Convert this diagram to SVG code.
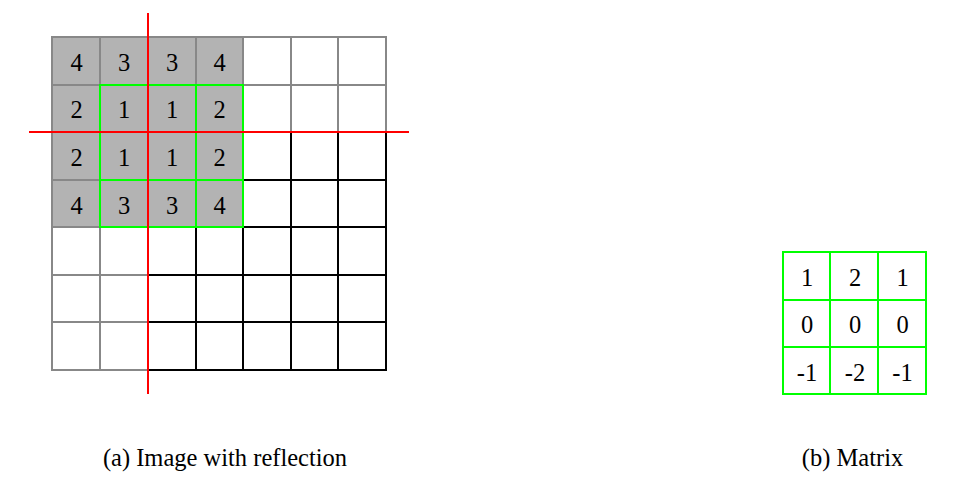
<svg xmlns="http://www.w3.org/2000/svg" width="954" height="480" viewBox="0 0 954 480">
<style>
text{font-size:24.5px;fill:#000;text-anchor:middle}
.g{stroke:#888;stroke-width:2;fill:none}
.k{stroke:#000;stroke-width:2;fill:none}
.gr{stroke:#00ff00;stroke-width:2;fill:none}
.r{stroke:#ff0000;stroke-width:2;fill:none}
</style>
<rect width="954" height="480" fill="#fff"/>
<g font-family="'Liberation Serif', 'Times New Roman', serif">
<g id="image-grid">
<rect x="52" y="37" width="191" height="190" fill="#b3b3b3"/>
<path class="g" d="M52 37V370M100 37V370M148 37V370M196 37V370M243 37V370M291 37V370M338 37V370M386 37V370M52 37H386M52 85H386M52 132H386M52 180H386M52 227H386M52 275H386M52 322H386M52 370H386" stroke-linecap="square"/>
<path class="k" d="M148 132V370M196 132V370M243 132V370M291 132V370M338 132V370M386 132V370M148 132H386M148 180H386M148 227H386M148 275H386M148 322H386M148 370H386" stroke-linecap="square"/>
<path class="gr" d="M100 85V227M148 85V227M196 85V227M243 85V227M100 85H243M100 132H243M100 180H243M100 227H243" stroke-linecap="square"/>
<g id="grid-values">
<text x="76.5" y="70.8">4</text><text x="124" y="70.8">3</text><text x="172" y="70.8">3</text><text x="219.5" y="70.8">4</text>
<text x="76.5" y="118.4">2</text><text x="124" y="118.4">1</text><text x="172" y="118.4">1</text><text x="219.5" y="118.4">2</text>
<text x="76.5" y="165.9">2</text><text x="124" y="165.9">1</text><text x="172" y="165.9">1</text><text x="219.5" y="165.9">2</text>
<text x="76.5" y="213.5">4</text><text x="124" y="213.5">3</text><text x="172" y="213.5">3</text><text x="219.5" y="213.5">4</text>
</g>
</g>
<g id="reflection-axes">
<path class="r" d="M148 13V394M29 132H409"/>
</g>
<g id="matrix">
<path class="gr" d="M783 252V394M830 252V394M878 252V394M926 252V394M783 252H926M783 300H926M783 347H926M783 394H926" stroke-linecap="square"/>
<text x="807" y="285.8">1</text><text x="855" y="285.8">2</text><text x="902.5" y="285.8">1</text>
<text x="807" y="333.3">0</text><text x="855" y="333.3">0</text><text x="902.5" y="333.3">0</text>
<text x="807" y="380.8">-1</text><text x="855" y="380.8">-2</text><text x="902.5" y="380.8">-1</text>
</g>
<g id="captions">
<text x="225" y="466">(a) Image with reflection</text>
<text x="852.5" y="466">(b) Matrix</text>
</g>
</g>
</svg>
